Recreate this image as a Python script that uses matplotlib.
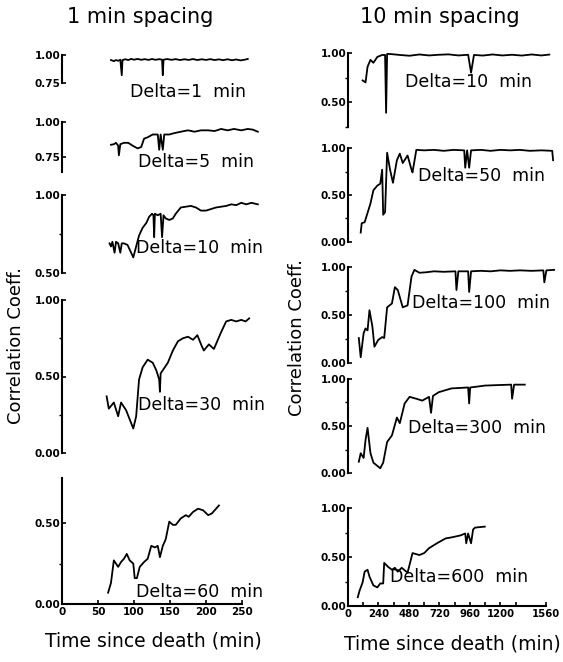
import matplotlib
matplotlib.use("Agg")
import matplotlib.pyplot as plt
from matplotlib.ticker import FixedLocator

# ---------------- data: 1 min spacing (left column) ----------------
t_d1 = [68, 72, 75, 78, 81, 83, 84, 88, 92, 96, 100, 105, 110, 115, 120, 125, 130, 135,
        139, 140, 141, 146, 152, 158, 164, 170, 176, 182, 188, 194, 200, 206, 212, 218,
        224, 230, 236, 242, 248, 254, 258]
c_d1 = [0.955, 0.945, 0.955, 0.948, 0.958, 0.82, 0.955, 0.962, 0.955, 0.965, 0.958, 0.965,
        0.957, 0.963, 0.956, 0.964, 0.957, 0.963, 0.958, 0.82, 0.958, 0.964, 0.957, 0.963,
        0.955, 0.962, 0.956, 0.964, 0.955, 0.962, 0.956, 0.963, 0.955, 0.961, 0.954, 0.962,
        0.953, 0.960, 0.952, 0.958, 0.965]

t_d5 = [68, 72, 75, 78, 79, 81, 86, 92, 98, 105, 110, 114, 119, 126, 133, 135, 137, 140,
        142, 149, 156, 165, 175, 184, 193, 203, 212, 221, 230, 239, 249, 258, 265, 272]
c_d5 = [0.836, 0.84, 0.85, 0.83, 0.76, 0.84, 0.85, 0.85, 0.83, 0.81, 0.82, 0.88, 0.89,
        0.91, 0.91, 0.80, 0.91, 0.80, 0.91, 0.91, 0.92, 0.93, 0.94, 0.93, 0.94, 0.94,
        0.935, 0.95, 0.94, 0.95, 0.94, 0.95, 0.945, 0.93]

t_d10 = [66, 68, 70, 73, 75, 78, 81, 83, 86, 91, 96, 99, 103, 107, 112, 117, 121, 125,
         127, 128, 129, 133, 137, 139, 141, 144, 149, 154, 158, 165, 172, 179, 186, 193,
         200, 207, 214, 221, 228, 235, 242, 249, 256, 263, 272]
c_d10 = [0.69, 0.67, 0.70, 0.63, 0.70, 0.69, 0.63, 0.69, 0.69, 0.68, 0.63, 0.60, 0.67,
         0.74, 0.79, 0.82, 0.86, 0.88, 0.87, 0.73, 0.88, 0.87, 0.88, 0.73, 0.87, 0.85,
         0.84, 0.85, 0.88, 0.92, 0.925, 0.93, 0.92, 0.90, 0.90, 0.91, 0.92, 0.925, 0.93,
         0.94, 0.935, 0.95, 0.94, 0.95, 0.94]

t_d30 = [62, 65, 72, 78, 82, 89, 99, 103, 107, 112, 119, 126, 131, 135, 136, 137, 147,
         154, 161, 168, 175, 182, 188, 194, 197, 204, 211, 221, 228, 235, 242, 249, 255, 260]
c_d30 = [0.37, 0.29, 0.33, 0.24, 0.33, 0.28, 0.16, 0.24, 0.48, 0.56, 0.61, 0.59, 0.54,
         0.48, 0.40, 0.52, 0.59, 0.67, 0.73, 0.75, 0.76, 0.74, 0.77, 0.70, 0.67, 0.71,
         0.68, 0.79, 0.86, 0.87, 0.86, 0.87, 0.86, 0.88]

t_d60 = [64, 68, 72, 78, 82, 86, 90, 94, 99, 101, 104, 108, 114, 119, 124, 129, 133, 136,
         140, 144, 149, 154, 158, 165, 172, 176, 182, 189, 196, 203, 208, 214, 218]
c_d60 = [0.07, 0.13, 0.27, 0.23, 0.26, 0.28, 0.31, 0.27, 0.25, 0.16, 0.16, 0.23, 0.26,
         0.28, 0.36, 0.35, 0.36, 0.29, 0.36, 0.40, 0.51, 0.49, 0.49, 0.53, 0.55, 0.54,
         0.57, 0.59, 0.58, 0.55, 0.56, 0.59, 0.61]

# ---------------- data: 10 min spacing (right column) ----------------
t_r10 = [115, 138, 154, 177, 200, 231, 269, 292, 300, 308, 331, 369, 408, 485, 562, 638,
         715, 792, 869, 946, 969, 992, 1062, 1138, 1215, 1292, 1369, 1446, 1523, 1585]
c_r10 = [0.72, 0.70, 0.86, 0.93, 0.90, 0.96, 0.98, 0.98, 0.39, 0.99, 0.99, 0.985, 0.98,
         0.972, 0.985, 0.975, 0.982, 0.986, 0.975, 0.982, 0.80, 0.98, 0.974, 0.985, 0.975,
         0.982, 0.974, 0.985, 0.975, 0.984]

t_r50 = [100, 108, 131, 154, 177, 200, 231, 254, 269, 277, 292, 308, 331, 354, 385, 408,
         431, 469, 500, 508, 538, 600, 677, 754, 831, 915, 923, 938, 954, 969, 1046, 1123,
         1200, 1277, 1354, 1431, 1523, 1608, 1615]
c_r50 = [0.10, 0.20, 0.21, 0.31, 0.41, 0.55, 0.60, 0.62, 0.77, 0.29, 0.32, 0.95, 0.77,
         0.63, 0.87, 0.94, 0.84, 0.92, 0.77, 0.74, 0.98, 0.975, 0.98, 0.97, 0.98, 0.975,
         0.79, 0.975, 0.79, 0.975, 0.98, 0.97, 0.98, 0.975, 0.98, 0.97, 0.975, 0.97, 0.87]

t_r100 = [85, 100, 123, 138, 154, 169, 192, 208, 238, 269, 285, 308, 346, 369, 392, 431,
          469, 500, 523, 562, 615, 677, 754, 846, 854, 869, 946, 954, 969, 1046, 1123,
          1200, 1277, 1354, 1446, 1538, 1546, 1562, 1623]
c_r100 = [0.26, 0.06, 0.31, 0.36, 0.34, 0.55, 0.38, 0.17, 0.24, 0.27, 0.26, 0.58, 0.62,
          0.79, 0.76, 0.58, 0.60, 0.90, 0.97, 0.94, 0.945, 0.955, 0.95, 0.955, 0.76,
          0.955, 0.955, 0.74, 0.955, 0.96, 0.955, 0.965, 0.96, 0.965, 0.96, 0.965, 0.84,
          0.965, 0.97]

t_r300 = [85, 100, 123, 138, 154, 177, 200, 254, 277, 308, 346, 385, 408, 446, 485, 538,
          585, 638, 654, 669, 715, 815, 885, 946, 954, 962, 1023, 1077, 1177, 1285, 1292,
          1308, 1392]
c_r300 = [0.12, 0.21, 0.16, 0.35, 0.48, 0.21, 0.11, 0.05, 0.11, 0.33, 0.40, 0.59, 0.53,
          0.74, 0.81, 0.79, 0.77, 0.81, 0.64, 0.82, 0.86, 0.90, 0.905, 0.91, 0.74, 0.91,
          0.92, 0.93, 0.935, 0.94, 0.79, 0.94, 0.94]

t_r600 = [77, 92, 115, 131, 154, 169, 200, 231, 254, 277, 285, 315, 346, 369, 392, 423,
          469, 508, 562, 600, 638, 700, 769, 815, 885, 923, 931, 946, 969, 985, 1000, 1077]
c_r600 = [0.09, 0.16, 0.24, 0.35, 0.37, 0.30, 0.21, 0.19, 0.23, 0.23, 0.44, 0.40, 0.37,
          0.39, 0.35, 0.39, 0.34, 0.54, 0.52, 0.54, 0.59, 0.64, 0.69, 0.70, 0.72, 0.74,
          0.64, 0.74, 0.64, 0.78, 0.80, 0.81]

left_labels = ["Delta=1  min", "Delta=5  min", "Delta=10  min", "Delta=30  min", "Delta=60  min"]
right_labels = ["Delta=10  min", "Delta=50  min", "Delta=100  min", "Delta=300  min", "Delta=600  min"]

W, H = 563, 662
fig = plt.figure(figsize=(W / 100, H / 100), dpi=100)
fig.patch.set_facecolor("white")


def add_panel(left, right, top, bottom):
    return fig.add_axes([left / W, 1 - bottom / H, (right - left) / W, (bottom - top) / H])


def style(ax, ylim, major, minor, labels):
    ax.set_ylim(*ylim)
    for s in ["top", "right", "bottom"]:
        ax.spines[s].set_visible(False)
    ax.spines["left"].set_linewidth(1.5)
    ax.yaxis.set_major_locator(FixedLocator(major))
    ax.set_yticklabels(labels, fontsize=7.5, fontweight="bold")
    ax.yaxis.set_minor_locator(FixedLocator(minor))
    ax.tick_params(axis="y", which="major", direction="in", length=3, width=1.2, pad=1)
    ax.tick_params(axis="y", which="minor", direction="out", length=2.5, width=1.0)
    ax.set_xticks([])
    ax.patch.set_alpha(0)


def ptext(x, y, s, size=12.5, **kw):
    fig.text(x / W, 1 - y / H, s, fontsize=size, va="center", **kw)


# ---- left column ----
lt = [t_d1, t_d5, t_d10, t_d30, t_d60]
lc = [c_d1, c_d5, c_d10, c_d30, c_d60]
lbox = [(55, 83), (122, 172), (195, 273), (300, 453), (478, 604)]
lylim = [(0.75, 1.0), (0.64, 1.0), (0.5, 1.0), (0.0, 1.0), (0.0, 0.78)]
lmaj = [[0.75, 1.0], [0.75, 1.0], [0.5, 1.0], [0.0, 0.5, 1.0], [0.0, 0.5]]
lmin = [[], [], [0.75], [0.25, 0.75], [0.25]]
ltxt = [(130, 92), (138, 162), (136, 248), (138, 405), (136, 592)]

for i in range(5):
    ax = add_panel(62, 62 + 280 * 0.72, lbox[i][0], lbox[i][1])
    ax.plot(lt[i], lc[i], color="black", lw=1.3)
    ax.set_xlim(0, 280)
    style(ax, lylim[i], lmaj[i], lmin[i], ["%.2f" % v for v in lmaj[i]])
    if i == 4:
        ax.spines["bottom"].set_visible(True)
        ax.spines["bottom"].set_linewidth(1.5)
        ax.spines["bottom"].set_bounds(0, 250)
        ax.set_xticks([0, 50, 100, 150, 200, 250])
        ax.set_xticklabels(["0", "50", "100", "150", "200", "250"], fontsize=7.5, fontweight="bold")
        ax.tick_params(axis="x", direction="in", length=3, width=1.2, pad=2)
    ptext(ltxt[i][0], ltxt[i][1], left_labels[i])

# ---- right column ----
rt = [t_r10, t_r50, t_r100, t_r300, t_r600]
rc = [c_r10, c_r50, c_r100, c_r300, c_r600]
rbox = [(53, 126.5), (148, 242), (267, 363), (379, 473), (508, 606)]
rylim = [(0.25, 1.0), (0.0, 1.0), (0.0, 1.0), (0.0, 1.0), (0.0, 1.0)]
rmaj = [[0.5, 1.0]] + [[0.0, 0.5, 1.0]] * 4
rmin = [[0.25, 0.75]] + [[0.25, 0.75]] * 4
rtxt = [(405, 82), (418, 176), (412, 303), (408, 428), (390, 577)]
rscale = 0.127

for i in range(5):
    ax = add_panel(348, 348 + 1650 * rscale, rbox[i][0], rbox[i][1])
    ax.plot(rt[i], rc[i], color="black", lw=1.3)
    ax.set_xlim(0, 1650)
    style(ax, rylim[i], rmaj[i], rmin[i], ["%.2f" % v for v in rmaj[i]])
    if i == 4:
        ax.spines["bottom"].set_visible(True)
        ax.spines["bottom"].set_linewidth(1.5)
        ax.spines["bottom"].set_bounds(0, 1560)
        ax.set_xticks([0, 240, 480, 720, 960, 1200, 1560])
        ax.set_xticklabels(["0", "240", "480", "720", "960", "1200", "1560"],
                           fontsize=7.3, fontweight="bold")
        ax.xaxis.set_minor_locator(FixedLocator(range(120, 1560, 240)))
        ax.tick_params(axis="x", which="both", direction="in", length=3, width=1.2, pad=2)
    ptext(rtxt[i][0], rtxt[i][1], right_labels[i])

# titles and axis labels
ptext(140, 17, "1 min spacing", size=15, ha="center")
ptext(440, 17, "10 min spacing", size=15, ha="center")
ptext(153, 641, "Time since death (min)", size=13.5, ha="center")
ptext(452, 644, "Time since death (min)", size=13.5, ha="center")
ptext(16, 346, "Correlation Coeff.", size=13, ha="center", rotation=90)
ptext(297, 337, "Correlation Coeff.", size=13, ha="center", rotation=90)

fig.savefig("out.png", dpi=100)
